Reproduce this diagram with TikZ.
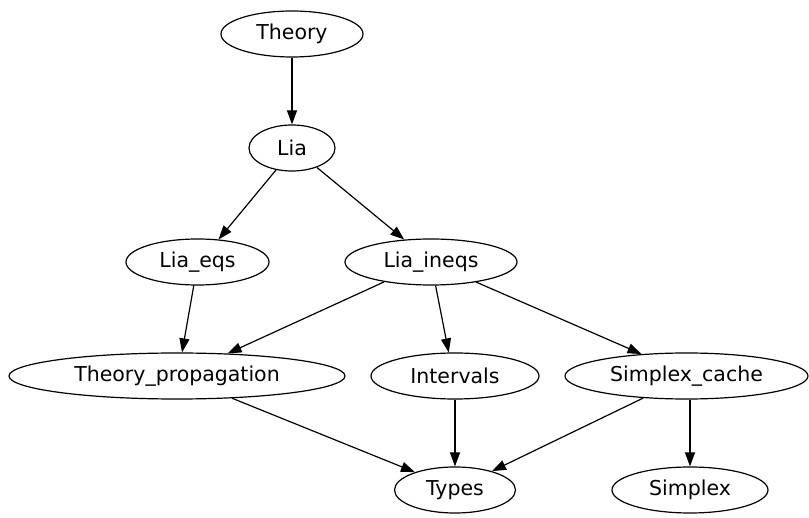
\documentclass[tikz,border=0pt]{standalone}
\usepackage{fontspec}
\setmainfont{DejaVu Sans}
\usetikzlibrary{shapes.geometric,arrows.meta}
\begin{document}
\begin{tikzpicture}[x=1pt,y=-1pt,
  nd/.style={draw,ellipse,inner sep=0pt,line width=1.2pt,font=\fontsize{20.5}{24}\selectfont},
  ed/.style={draw,line width=1.2pt,-{Triangle[length=14pt,width=10pt]}}]
\useasboundingbox (0,0) rectangle (809,518);
\node[nd,minimum width=142pt,minimum height=46pt] (theory) at (292,34) {Theory};
\node[nd,minimum width=86pt,minimum height=46pt] (lia) at (292,148) {Lia};
\node[nd,minimum width=143pt,minimum height=46pt] (liaeqs) at (197.5,262) {Lia\_eqs};
\node[nd,minimum width=172pt,minimum height=46pt] (liaineqs) at (431,262) {Lia\_ineqs};
\node[nd,minimum width=336pt,minimum height=46pt] (tprop) at (177,376) {Theory\_propagation};
\node[nd,minimum width=168pt,minimum height=46pt] (intervals) at (455,376) {Intervals};
\node[nd,minimum width=243pt,minimum height=46pt] (scache) at (686.5,376) {Simplex\_cache};
\node[nd,minimum width=121pt,minimum height=46pt] (types) at (455,490) {Types};
\node[nd,minimum width=156pt,minimum height=46pt] (simplex) at (690,490) {Simplex};
\draw[ed] (theory) -- (lia);
\draw[ed] (lia.234.9) -- (liaeqs.47.8);
\draw[ed] (lia.322.5) -- (liaineqs.140);
\draw[ed] (liaeqs.261) -- (tprop.78);
\draw[ed] (liaineqs.203.5) -- (tprop.24.2);
\draw[ed] (liaineqs.281.7) -- (intervals.105.4);
\draw[ed] (liaineqs.336.1) -- (scache.154.9);
\draw[ed] (tprop.338.2) -- (types.156.9);
\draw[ed] (intervals) -- (types);
\draw[ed] (scache.207.7) -- (types.27.6);
\draw[ed] (scache.south -| simplex.north) -- (simplex.north);
\end{tikzpicture}
\end{document}
